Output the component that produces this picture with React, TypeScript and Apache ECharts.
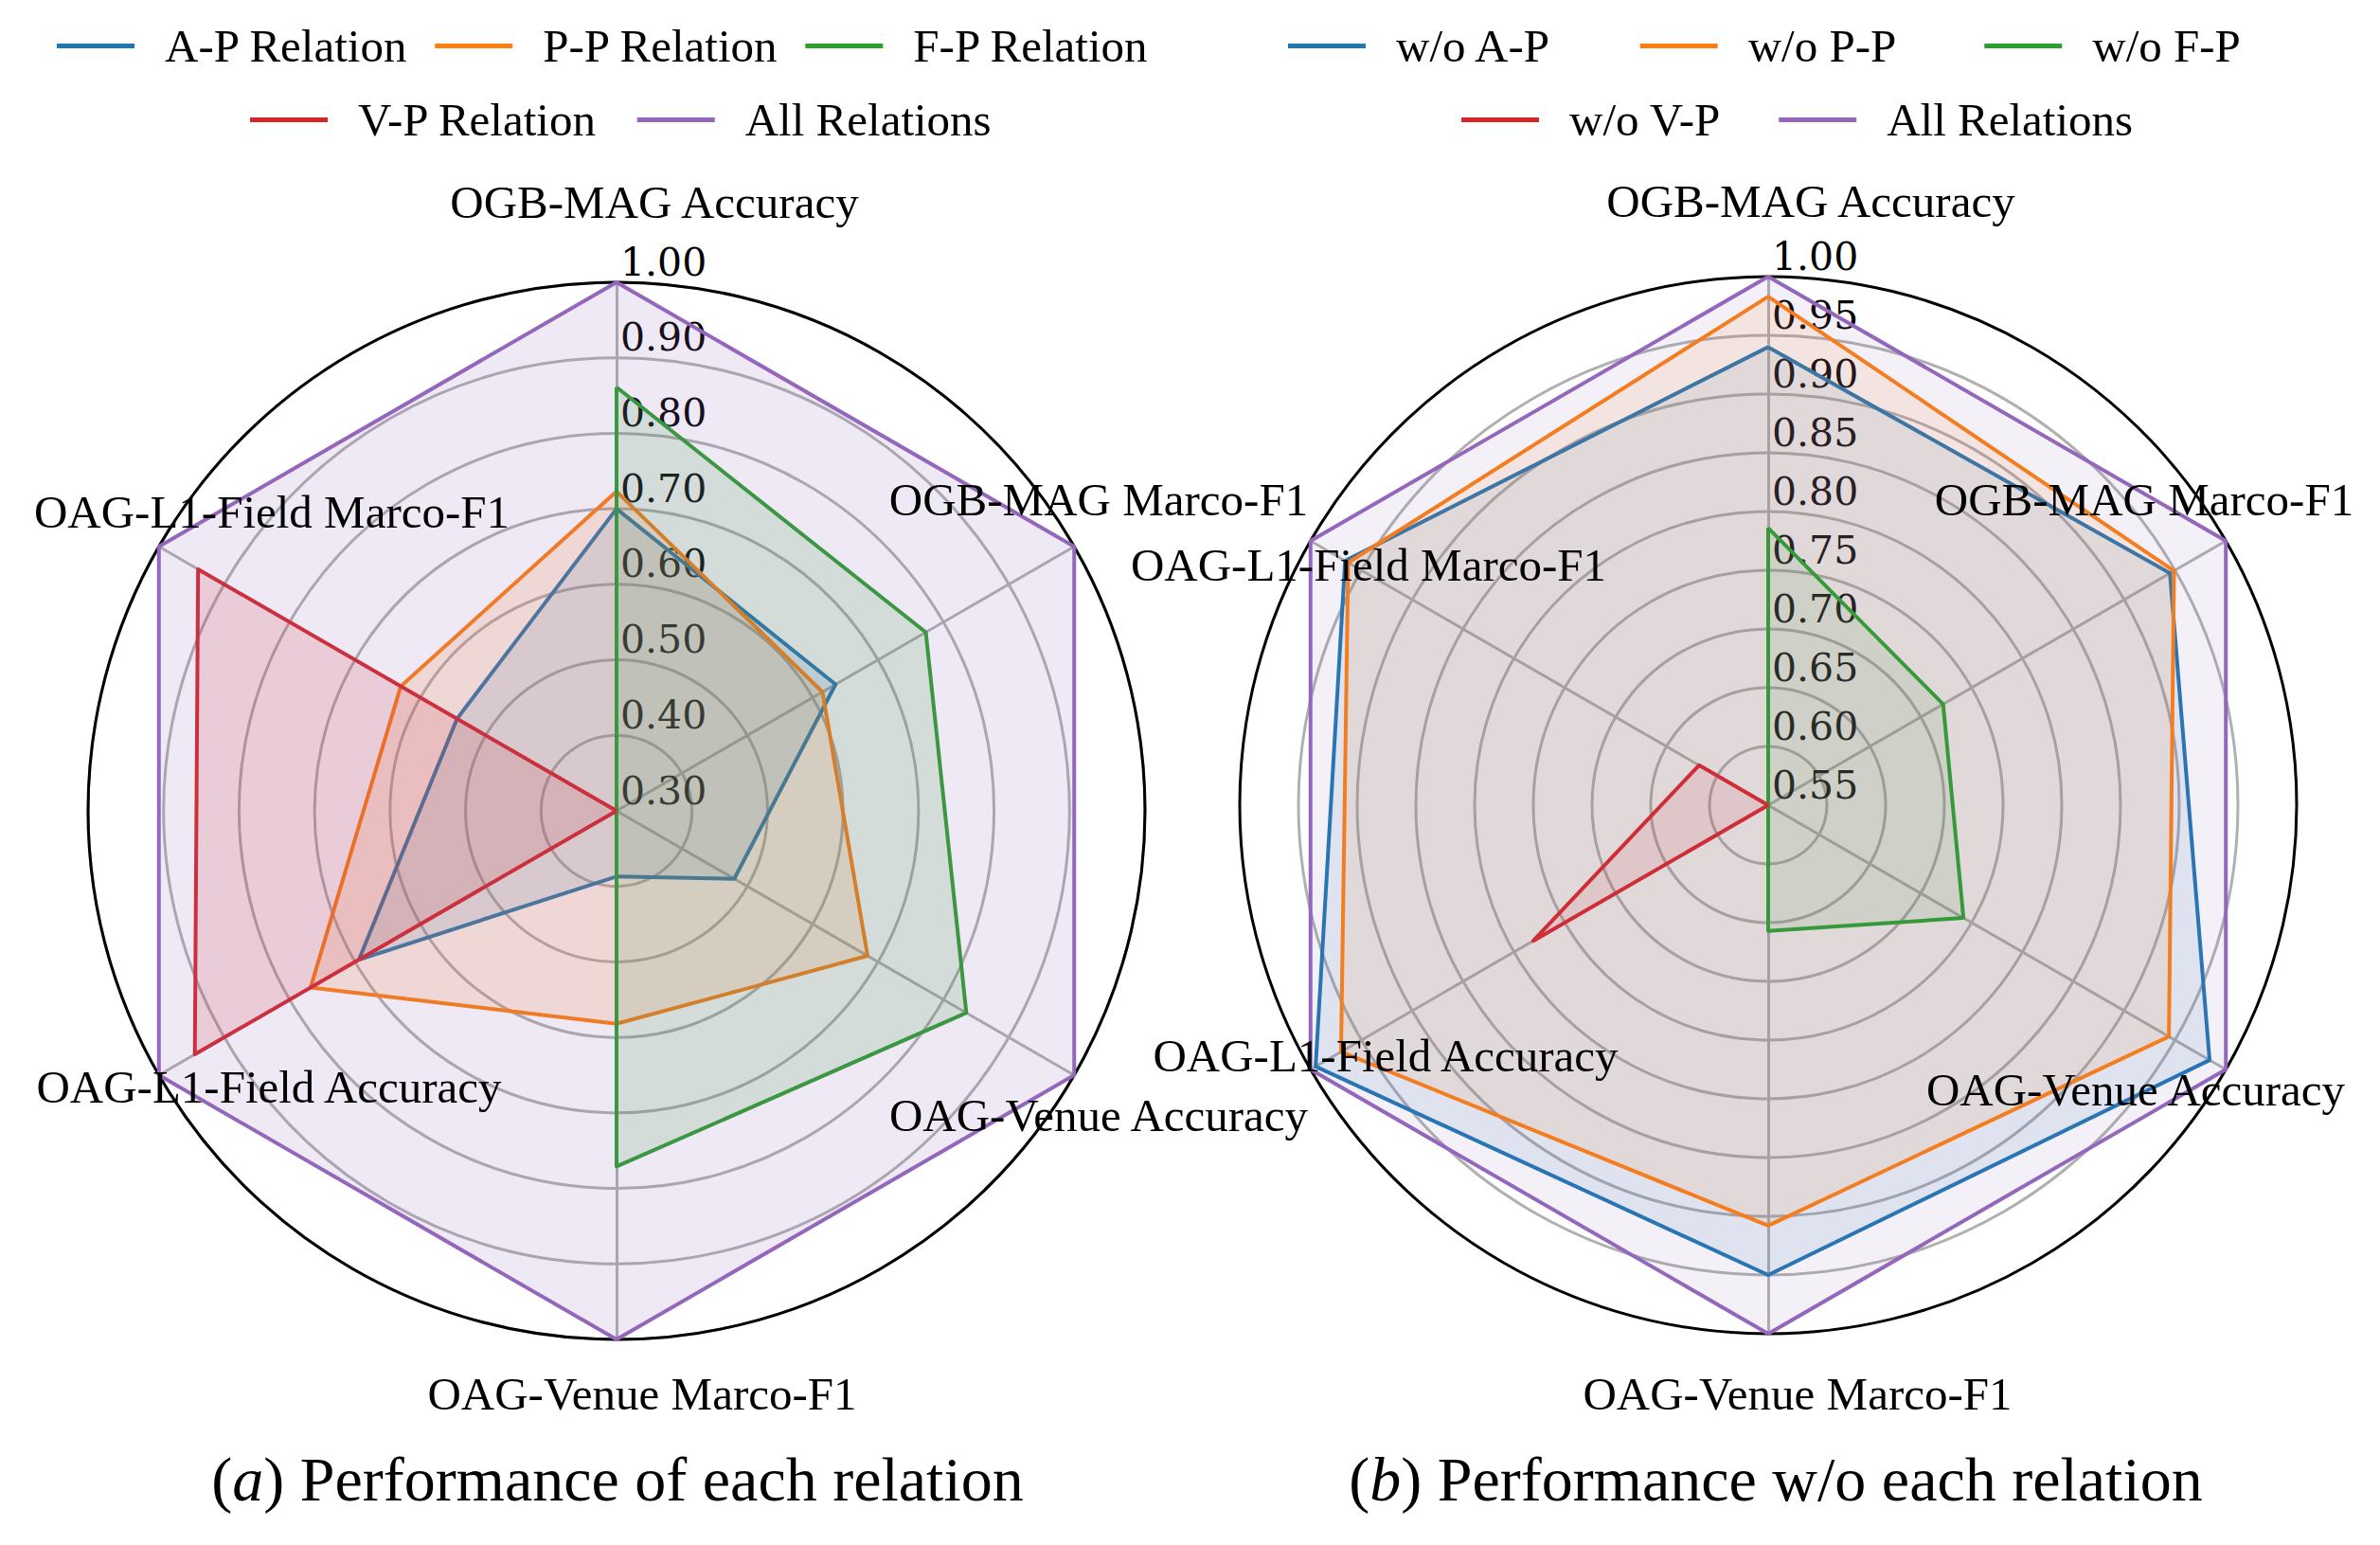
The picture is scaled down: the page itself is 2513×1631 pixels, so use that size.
import React, { useEffect, useRef } from "react";
import * as echarts from "echarts";

// Metrics in clockwise order starting at the top
const metrics = [
  "OGB-MAG Accuracy",
  "OGB-MAG Marco-F1",
  "OAG-Venue Accuracy",
  "OAG-Venue Marco-F1",
  "OAG-L1-Field Accuracy",
  "OAG-L1-Field Marco-F1",
];

const colors = ["#1f77b4", "#ff7f0e", "#2ca02c", "#d62728", "#9467bd"];

// (a) Performance of each relation
const leftNames = ["A-P Relation", "P-P Relation", "F-P Relation", "V-P Relation", "All Relations"];
const leftAP = [0.70, 0.635, 0.48, 0.387, 0.694, 0.544];
const leftPP = [0.723, 0.615, 0.684, 0.582, 0.768, 0.63];
const leftFP = [0.861, 0.773, 0.835, 0.771, 0.30, 0.30];
const leftVP = [0.30, 0.30, 0.30, 0.30, 0.945, 0.94];
const leftAll = [1.0, 1.0, 1.0, 1.0, 1.0, 1.0];
const leftMin = 0.3;
const leftMax = 1.0;
const leftSplits = 7;

// (b) Performance w/o each relation
const rightNames = ["w/o A-P", "w/o P-P", "w/o F-P", "w/o V-P", "All Relations"];
const rightAP = [0.94, 0.945, 0.984, 0.95, 0.995, 0.966];
const rightPP = [0.983, 0.949, 0.944, 0.908, 0.97, 0.963];
const rightFP = [0.786, 0.722, 0.742, 0.657, 0.55, 0.55];
const rightVP = [0.55, 0.55, 0.55, 0.55, 0.781, 0.618];
const rightAll = [1.0, 1.0, 1.0, 1.0, 1.0, 1.0];
const rightMin = 0.55;
const rightMax = 1.0;
const rightSplits = 9;

const titleA = "a";
const titleB = "b";
const titleRestA = ") Performance of each relation";
const titleRestB = ") Performance w/o each relation";

// ---------- layout ----------
const W = 2513;
const H = 1631;
const SERIF = "Liberation Serif";
const TICKFONT = "DejaVu Serif";
const R = 558;
const LEFT_C = [651, 856];
const RIGHT_C = [1867, 850];
// ECharts places indicators counter-clockwise; reorder the clockwise data
const ORDER = [0, 5, 4, 3, 2, 1];
const reorder = (a: any[]) => ORDER.map((i) => a[i]);

const NAME_POS_LEFT = [
  [691, 213], [1160, 527], [1160, 1177], [678, 1471], [284, 1147], [287, 540],
];
const NAME_POS_RIGHT = [
  [1912, 212], [2264, 527], [2255, 1150], [1898, 1471], [1463, 1114], [1445, 596],
];

function radarCfg(center: number[], min: number, max: number, splits: number) {
  const lineColors: string[] = [];
  for (let i = 0; i < splits; i++) lineColors.push("#b0b0b0");
  lineColors.push("#000000");
  return {
    center,
    radius: R,
    startAngle: 90,
    shape: "circle",
    splitNumber: splits,
    axisName: { show: false },
    indicator: reorder(metrics).map((m: string, i: number) => {
      const ind: any = { name: m, min, max };
      if (i !== 0) ind.axisLabel = { show: false };
      return ind;
    }),
    splitArea: { show: false },
    splitLine: { show: true, lineStyle: { color: lineColors, width: 3 } },
    axisLine: { show: true, lineStyle: { color: "#b0b0b0", width: 3 } },
    axisTick: { show: false },
    axisLabel: {
      show: true,
      fontFamily: TICKFONT,
      fontSize: 41,
      color: "#000",
      align: "left",
      verticalAlign: "bottom",
      margin: -4,
      padding: [0, 0, 1, 0],
      formatter: (v: number) => Number(v).toFixed(2),
    },
  };
}

function seriesCfg(idx: number, names: string[], vals: number[][], opacity: number) {
  return {
    type: "radar",
    radarIndex: idx,
    symbol: "none",
    silent: true,
    data: names.map((name, k) => ({
      name,
      value: reorder(vals[k]),
      symbol: "none",
      itemStyle: { color: colors[k] },
      lineStyle: { color: colors[k], width: 4 },
      areaStyle: { color: colors[k], opacity },
    })),
  };
}

function nameTexts(pos: number[][]) {
  return metrics.map((m, i) => ({
    type: "text",
    x: pos[i][0],
    y: pos[i][1],
    z: 100,
    silent: true,
    style: {
      text: m,
      fontFamily: SERIF,
      fontSize: 49,
      fill: "#000",
      align: "center",
      verticalAlign: "middle",
    },
  }));
}

function titleText(x: number, letter: string, rest: string) {
  return {
    type: "text",
    x,
    y: 1561,
    z: 100,
    silent: true,
    style: {
      text: `{n|(}{i|${letter}}{n|${rest}}`,
      align: "center",
      verticalAlign: "middle",
      rich: {
        n: { fontFamily: SERIF, fontSize: 66, fill: "#000", color: "#000" },
        i: { fontFamily: SERIF, fontSize: 66, fontStyle: "italic", fill: "#000", color: "#000" },
      },
    },
  };
}

const legendBase = {
  orient: "horizontal",
  icon: "rect",
  itemWidth: 82,
  itemHeight: 5,
  padding: 0,
  selectedMode: false,
  textStyle: {
    fontFamily: SERIF,
    fontSize: 49,
    color: "#000",
    padding: [0, 0, 0, 27],
  },
};

export default function App() {
  const ref = useRef<HTMLDivElement>(null);
  useEffect(() => {
    if (!ref.current) return;
    const chart = echarts.init(ref.current, undefined, { renderer: "svg" });
    chart.setOption({
      animation: false,
      backgroundColor: "#ffffff",
      legend: [
        { ...legendBase, data: leftNames.slice(0, 3), left: 60, top: 24, itemGap: 28 },
        { ...legendBase, data: leftNames.slice(3), left: 264, top: 102, itemGap: 42 },
        { ...legendBase, data: rightNames.slice(0, 3), left: 1360, top: 24, itemGap: 93 },
        { ...legendBase, data: rightNames.slice(3), left: 1543, top: 102, itemGap: 61 },
      ],
      radar: [
        radarCfg(LEFT_C, leftMin, leftMax, leftSplits),
        radarCfg(RIGHT_C, rightMin, rightMax, rightSplits),
      ],
      series: [
        seriesCfg(0, leftNames, [leftAP, leftPP, leftFP, leftVP, leftAll], 0.15),
        seriesCfg(1, rightNames, [rightAP, rightPP, rightFP, rightVP, rightAll], 0.1),
      ],
      graphic: {
        elements: [
          ...nameTexts(NAME_POS_LEFT),
          ...nameTexts(NAME_POS_RIGHT),
          titleText(652, titleA, titleRestA),
          titleText(1875, titleB, titleRestB),
        ],
      },
    });
    return () => chart.dispose();
  }, []);
  return (
    <div
      ref={ref}
      style={{ position: "fixed", left: 0, top: 0, width: W, height: H, background: "#fff" }}
    />
  );
}
